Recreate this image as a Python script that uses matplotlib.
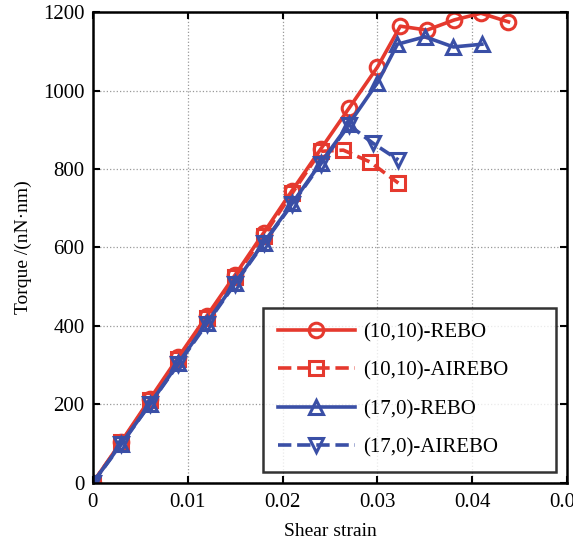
import numpy as np
import matplotlib.pyplot as plt

plt.rcParams['font.family'] = ['Liberation Serif', 'DejaVu Serif']

# (10,10)-REBO
x_ac_rebo = [0, 0.003, 0.006, 0.009, 0.012, 0.015, 0.018, 0.021, 0.024, 0.027, 0.030,
             0.0324, 0.0352, 0.0381, 0.0409, 0.0438]
y_ac_rebo = [0, 105, 213, 320, 425, 530, 637, 745, 850, 955, 1060,
             1164, 1154, 1180, 1197, 1175]
# (10,10)-AIREBO
x_ac_air = [0, 0.003, 0.006, 0.009, 0.012, 0.015, 0.018, 0.021, 0.024, 0.0264, 0.0292, 0.0322]
y_ac_air = [0, 103, 210, 315, 420, 525, 630, 738, 845, 848, 818, 764]
# (17,0)-REBO
x_zz_rebo = [0, 0.003, 0.006, 0.009, 0.012, 0.015, 0.018, 0.021, 0.024, 0.027, 0.030,
             0.0321, 0.0350, 0.0380, 0.0410]
y_zz_rebo = [0, 100, 200, 305, 408, 510, 612, 712, 815, 915, 1020,
             1118, 1137, 1111, 1118]
# (17,0)-AIREBO
x_zz_air = [0, 0.003, 0.006, 0.009, 0.012, 0.015, 0.018, 0.021, 0.024, 0.027, 0.0295, 0.0322]
y_zz_air = [0, 98, 200, 302, 405, 508, 610, 710, 812, 912, 866, 823]

red = '#e5392e'
blue = '#3a4fa6'

fig = plt.figure(figsize=(5.73, 5.48), dpi=100)
ax = fig.add_axes([0.162, 0.119, 0.828, 0.859])

kw = dict(lw=2.6, ms=10.5, mew=2.2, mfc='none')
ax.plot(x_ac_rebo, y_ac_rebo, '-o', color=red, label='(10,10)-REBO', **kw)
ax.plot(x_ac_air, y_ac_air, '--s', color=red, label='(10,10)-AIREBO', **kw)
ax.plot(x_zz_rebo, y_zz_rebo, '-^', color=blue, label='(17,0)-REBO', **kw)
ax.plot(x_zz_air, y_zz_air, '--v', color=blue, label='(17,0)-AIREBO', **kw)

ax.set_xlim(0, 0.05)
ax.set_ylim(0, 1200)
ax.set_xticks([0, 0.01, 0.02, 0.03, 0.04, 0.05])
ax.set_xticklabels(['0', '0.01', '0.02', '0.03', '0.04', '0.05'])
ax.set_yticks(np.arange(0, 1201, 200))
ax.tick_params(direction='in', top=True, right=True, labelsize=15, width=1.5, length=5)
ax.tick_params(axis='y', pad=6)
ax.tick_params(axis='x', pad=7)
ax.grid(True, linestyle=':', color='#999999', lw=0.9)
for s in ax.spines.values():
    s.set_linewidth(1.8)

ax.set_xlabel('Shear strain', fontsize=14, labelpad=8)
ax.set_ylabel('Torque /(nN·nm)', fontsize=14, labelpad=8)

leg = ax.legend(loc='lower left', bbox_to_anchor=(0.359, 0.023, 0.618, 0.344),
                mode='expand', fontsize=15, frameon=True, fancybox=False,
                handlelength=3.7, handletextpad=0.4, labelspacing=0.9,
                borderpad=0.7, borderaxespad=0, edgecolor='black')
leg.get_frame().set_linewidth(1.8)

fig.savefig('out.png', dpi=100)
